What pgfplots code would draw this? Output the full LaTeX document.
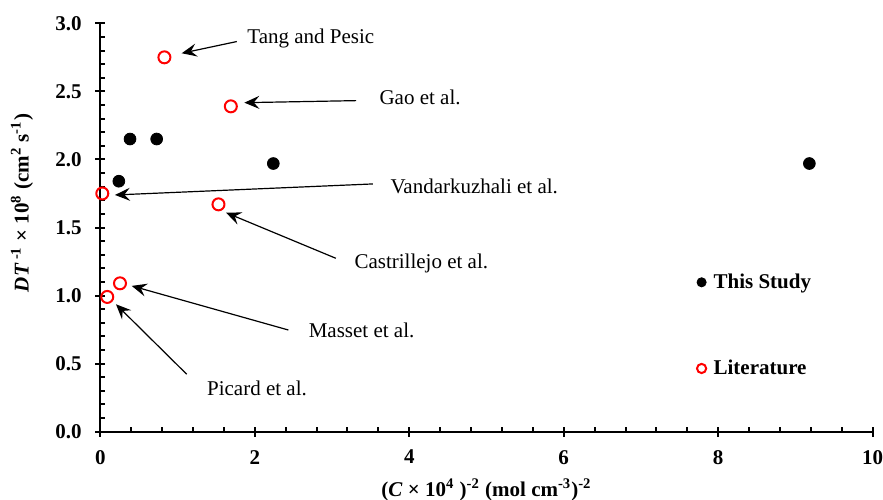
\documentclass[border=0pt]{standalone}
\usepackage{fontspec}
\setmainfont{Liberation Serif}
\usepackage{pgfplots}
\pgfplotsset{compat=1.18}
\usetikzlibrary{arrows.meta}

\definecolor{litred}{RGB}{255,0,0}

\begin{document}
\begin{tikzpicture}[font=\fontsize{10.5}{12.6}\selectfont,
  note/.style={-{Stealth[length=7.5pt,width=6.5pt,inset=2.8pt]}, line width=0.6pt, black},
  notetext/.style={anchor=base west, inner sep=0pt, font=\fontsize{10.5}{12.6}\selectfont}]
\begin{axis}[
  scale only axis, width=386.2pt, height=204.2pt,
  xmin=0, xmax=10, ymin=0, ymax=3,
  clip=false,
  axis lines=left, axis line style={-, line width=1pt},
  xtick={0,2,...,10}, ytick={0,0.5,...,3},
  minor x tick num=4, minor y tick num=4,
  tick align=inside, major tick length=5pt, minor tick length=2.5pt,
  tick style={black, line width=1pt},
  major x tick style={yshift=-2.5pt}, major y tick style={xshift=-2.5pt},
  /pgf/number format/assume math mode=true,
  ticklabel style={font=\fontsize{10.5}{12.6}\selectfont\bfseries},
  y tick label style={/pgf/number format/fixed, /pgf/number format/fixed zerofill,
    /pgf/number format/precision=1, xshift=-5.8pt},
  x tick label style={yshift=-5.7pt},
  xlabel={(\textit{C} × 10\textsuperscript{4} )\textsuperscript{-2} (mol cm\textsuperscript{-3})\textsuperscript{-2}},
  ylabel={\textit{DT}\,\textsuperscript{-1} × 10\textsuperscript{8} (cm\textsuperscript{2} s\textsuperscript{-1})},
  label style={font=\fontsize{10.5}{12.6}\selectfont\bfseries},
  xlabel style={at={(axis description cs:0.5,-0.159)}, anchor=base},
  ylabel style={at={(axis description cs:-0.1014,0.56)}, anchor=center},
  legend cell align=left,
  legend image code/.code={\path[draw=none, fill=none] (0pt,0pt) rectangle (4pt,0pt);
    \draw[#1, mark size=2.3pt] plot coordinates {(0cm,0cm)};},
  legend style={draw=none, fill=none, inner sep=0pt, row sep=30.3pt,
    font=\fontsize{10.5}{12.6}\selectfont\bfseries,
    at={(axis cs:7.72,0.781)}, anchor=west},
]
% this work
\addplot[only marks, mark=*, mark size=2.95pt, black, mark options={fill=black}]
  coordinates {(0.24,1.84) (0.385,2.15) (0.73,2.15) (2.24,1.97) (9.18,1.97)};
\addlegendentry{This Study}
% published values
\addplot[only marks, mark=o, mark size=3pt, litred, line width=1pt]
  coordinates {(0.83,2.75) (1.69,2.39) (0.026,1.75) (1.53,1.67) (0.255,1.09) (0.09,0.99)};
\addlegendentry{Literature}

% source labels
\draw[note] (axis cs:1.767,2.866) -- (axis cs:1.054,2.780);
\node[notetext] at (axis cs:1.90,2.849) {Tang and Pesic};
\draw[note] (axis cs:3.312,2.432) -- (axis cs:1.865,2.417);
\node[notetext] at (axis cs:3.61,2.400) {Gao et al.};
\draw[note] (axis cs:3.528,1.820) -- (axis cs:0.19,1.739);
\node[notetext] at (axis cs:3.753,1.747) {Vandarkuzhali et al.};
\draw[note] (axis cs:3.049,1.274) -- (axis cs:1.628,1.609);
\node[notetext] at (axis cs:3.286,1.200) {Castrillejo et al.};
\draw[note] (axis cs:2.435,0.747) -- (axis cs:0.407,1.071);
\node[notetext] at (axis cs:2.694,0.694) {Masset et al.};
\draw[note] (axis cs:1.119,0.422) -- (axis cs:0.203,0.936);
\node[notetext] at (axis cs:1.378,0.265) {Picard et al.};

\coordinate (ll) at (rel axis cs:0,0);
\coordinate (ur) at (rel axis cs:1,1);
\end{axis}
\pgfresetboundingbox
\useasboundingbox ([shift={(-50.15pt,-33.65pt)}]ll) rectangle ([shift={(5.15pt,11.65pt)}]ur);
\end{tikzpicture}
\end{document}
